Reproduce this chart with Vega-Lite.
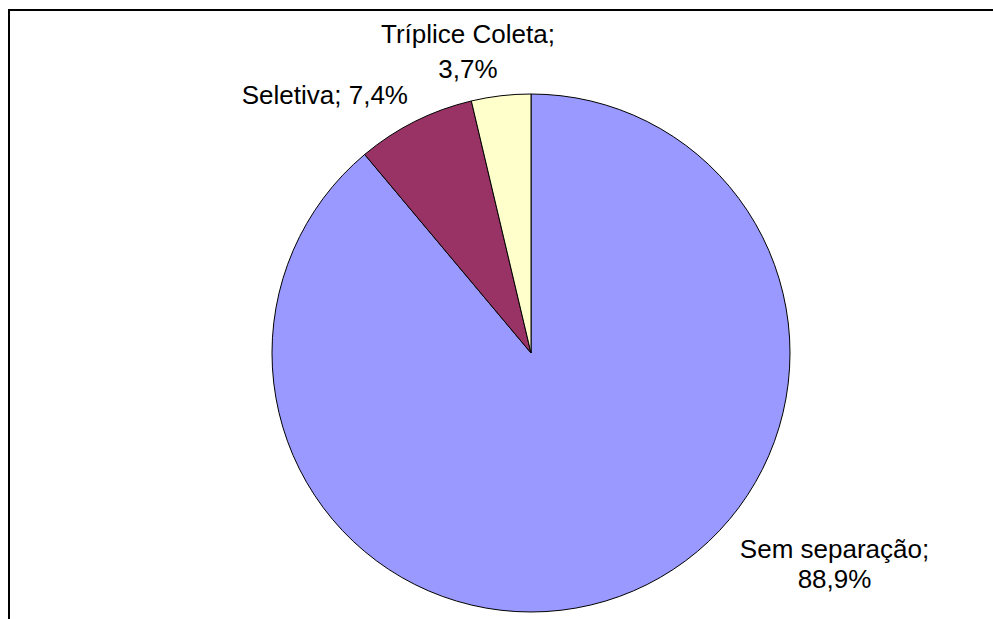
{
  "$schema": "https://vega.github.io/schema/vega-lite/v6.json",
  "autosize": "none",
  "width": 1044,
  "height": 686,
  "padding": {"left": 9, "top": 10, "right": 0, "bottom": 0},
  "background": "white",
  "view": {"stroke": "black", "strokeWidth": 2, "fill": "white"},
  "config": {"view": {"stroke": "black", "strokeWidth": 2}},
  "data": {
    "values": [
      {"cat": "Sem separação", "value": 88.9, "ordem": 1, "label": "Sem separação;\n88,9%"},
      {"cat": "Seletiva", "value": 7.4, "ordem": 2, "label": "Seletiva; 7,4%"},
      {"cat": "Tríplice Coleta", "value": 3.7, "ordem": 3, "label": "Tríplice Coleta;\n3,7%"}
    ]
  },
  "encoding": {
    "theta": {"field": "value", "type": "quantitative", "stack": true},
    "order": {"field": "ordem", "type": "quantitative"}
  },
  "layer": [
    {
      "mark": {"type": "arc", "outerRadius": 259, "stroke": "black", "strokeWidth": 1},
      "encoding": {
        "color": {
          "field": "cat",
          "type": "nominal",
          "scale": {"domain": ["Sem separação", "Seletiva", "Tríplice Coleta"], "range": ["#9999FF", "#993366", "#FFFFCC"]},
          "legend": null
        }
      }
    },
    {
      "mark": {"type": "text", "radius": 259, "font": "Liberation Sans", "fontSize": 26, "color": "black", "align": "center", "baseline": "middle", "lineBreak": "\n", "lineHeight": 30, "dx": 215, "dy": -46},
      "encoding": {
        "text": {"condition": {"test": "datum.cat === 'Sem separação'", "field": "label"}, "value": ""}
      }
    },
    {
      "mark": {"type": "text", "radius": 259, "font": "Liberation Sans", "fontSize": 26, "color": "black", "align": "center", "baseline": "middle", "lineBreak": "\n", "lineHeight": 30, "dx": -90, "dy": -25},
      "encoding": {
        "text": {"condition": {"test": "datum.cat === 'Seletiva'", "field": "label"}, "value": ""}
      }
    },
    {
      "mark": {"type": "text", "radius": 259, "font": "Liberation Sans", "fontSize": 26, "color": "black", "align": "center", "baseline": "middle", "lineBreak": "\n", "lineHeight": 35, "dx": -33, "dy": -61},
      "encoding": {
        "text": {"condition": {"test": "datum.cat === 'Tríplice Coleta'", "field": "label"}, "value": ""}
      }
    }
  ]
}
